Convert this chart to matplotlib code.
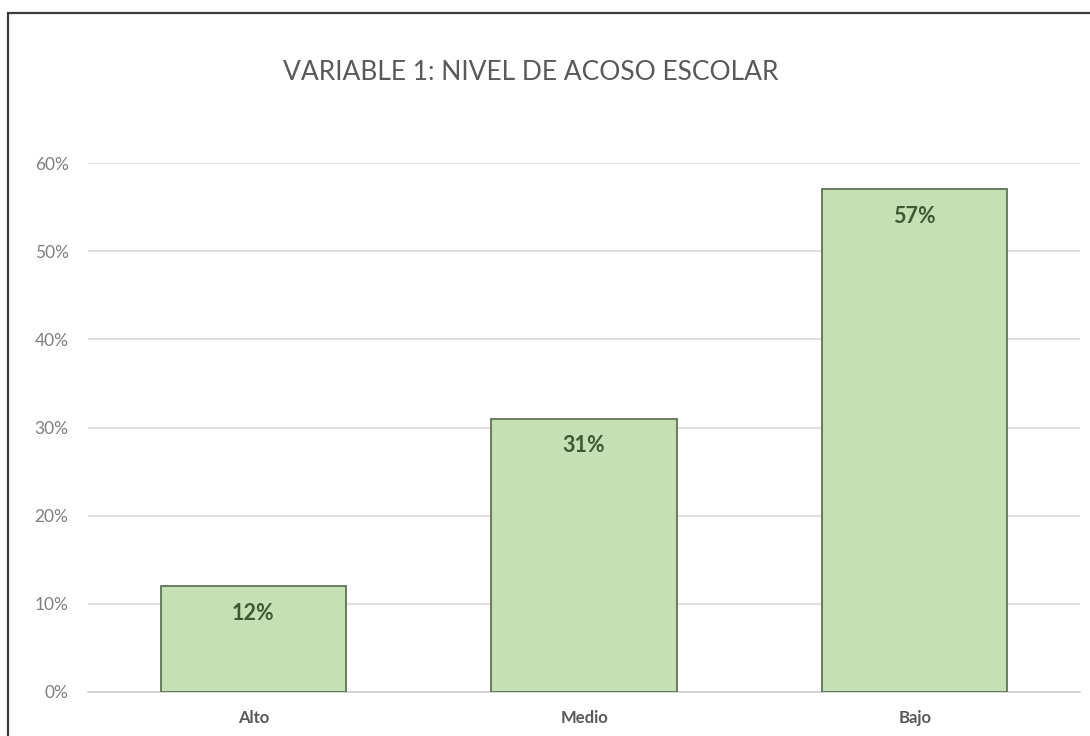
import matplotlib.pyplot as plt
from matplotlib.patches import Rectangle
from matplotlib.ticker import FuncFormatter

categories = ["Alto", "Medio", "Bajo"]
values = [0.12, 0.31, 0.57]
title = "VARIABLE 1: NIVEL DE ACOSO ESCOLAR"

plt.rcParams['font.family'] = ['Lato', 'DejaVu Sans']

fig = plt.figure(figsize=(10.9, 7.36), dpi=100)
ax = fig.add_axes([88 / 1090, 44 / 736, (1080 - 88) / 1090, (692 - 163) / 736])

# cropped chart frame (right and bottom edges outside the picture)
fig.patches.append(Rectangle((8 / 1090, -0.05), 1.1, (736 - 13) / 736 + 0.05,
                             transform=fig.transFigure, fill=False,
                             edgecolor="#3a3a3a", linewidth=1.6))

x = range(len(categories))
bars = ax.bar(x, values, width=0.56, color="#c5e0b4", edgecolor="#5f7356",
              linewidth=1.3, zorder=3)

for b, v in zip(bars, values):
    ax.annotate("%d%%" % round(v * 100), (b.get_x() + b.get_width() / 2, v),
                xytext=(0, -27), textcoords="offset pixels",
                ha="center", va="center", fontsize=15.5, fontweight="bold",
                color="#3e5a32", zorder=4)

ax.set_xlim(-0.5, 2.5)
ax.set_ylim(0, 0.6)
ax.set_yticks([0, 0.1, 0.2, 0.3, 0.4, 0.5, 0.6])
ax.yaxis.set_major_formatter(FuncFormatter(lambda v, p: "%d%%" % round(v * 100)))
ax.set_xticks(list(x))
ax.set_xticklabels(categories, fontsize=12, fontweight="bold", color="#595959")
ax.tick_params(axis="y", labelsize=12.5, labelcolor="#7f7f7f", length=0, pad=14)
ax.tick_params(axis="x", length=0, pad=13)
ax.grid(axis="y", color="#d9d9d9", linewidth=1.2, zorder=0)
for s in ["top", "right", "left"]:
    ax.spines[s].set_visible(False)
ax.spines["bottom"].set_color("#d0d0d0")
ax.spines["bottom"].set_linewidth(1.2)

fig.text(531 / 1090, 1 - 73 / 736, title, ha="center", va="center",
         fontsize=19, color="#595959")

fig.savefig("out.png", dpi=100)
